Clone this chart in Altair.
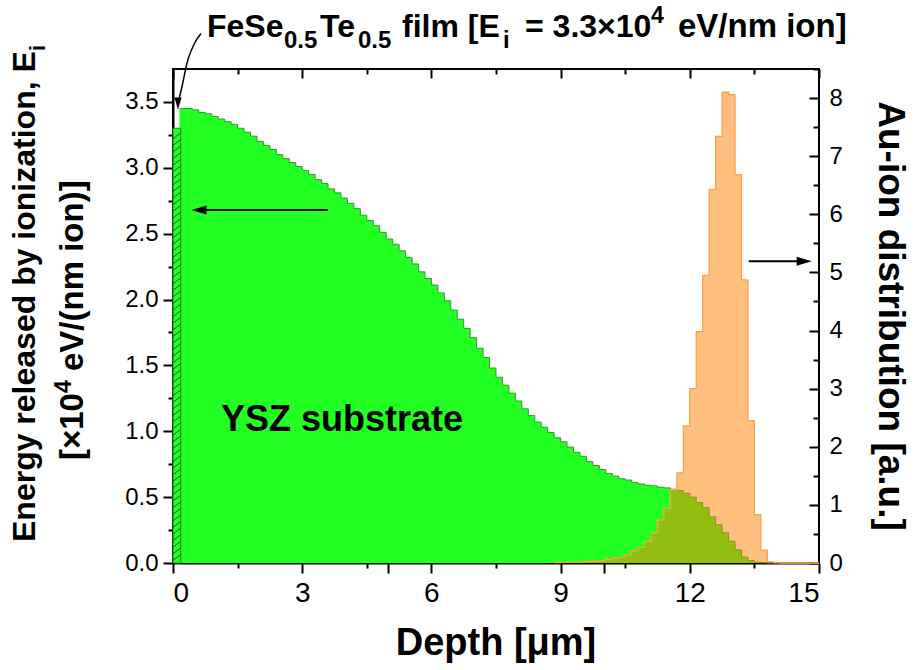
import altair as alt
import pandas as pd

FONT = "Liberation Sans"
BIN = 0.15  # depth bin width of both histograms, µm

# Energy released by ionization in the YSZ substrate (x10^4 eV/(nm ion)),
# one value per 0.15 µm bin, first bin starting at 0.15 µm
substrate_first_bin = 0.15
substrate_energy = [
    3.45, 3.45, 3.44, 3.42, 3.41, 3.39, 3.37, 3.35, 3.33, 3.30,
    3.27, 3.24, 3.20, 3.17, 3.14, 3.10, 3.07, 3.04, 3.01, 2.98,
    2.95, 2.91, 2.88, 2.84, 2.81, 2.77, 2.73, 2.69, 2.64, 2.60,
    2.56, 2.51, 2.46, 2.42, 2.37, 2.32, 2.27, 2.21, 2.16, 2.11,
    2.05, 1.99, 1.92, 1.85, 1.78, 1.71, 1.63, 1.56, 1.48, 1.41,
    1.35, 1.29, 1.23, 1.17, 1.12, 1.07, 1.03, 0.99, 0.95, 0.92,
    0.88, 0.84, 0.81, 0.77, 0.74, 0.71, 0.68, 0.66, 0.64, 0.63,
    0.61, 0.60, 0.59, 0.585, 0.575, 0.57, 0.56, 0.55, 0.53, 0.50,
    0.46, 0.42, 0.35, 0.29, 0.23, 0.165, 0.10, 0.045, 0.018, 0.005,
    0.002, 0, 0, 0, 0, 0, 0, 0, 0,
]

# Au-ion range distribution (a.u.), bins of 0.15 µm from 8.85 µm
ion_first_bin = 8.85
ion_distribution = [
    0.005, 0.01, 0.01, 0.015, 0.02, 0.03, 0.03, 0.04, 0.06, 0.08,
    0.10, 0.14, 0.21, 0.27, 0.37, 0.51, 0.74, 0.94, 1.26, 1.55,
    2.36, 3.00, 3.98, 4.95, 6.43, 7.34, 8.10, 8.06, 6.68, 4.87,
    2.45, 0.83, 0.22, 0.02, 0.005, 0, 0, 0, 0, 0, 0,
]

# FeSe0.5Te0.5 film on top of the substrate
film_depth = [0.0, 0.18]
film_energy = 3.3

# Axis ticks
x_major = [0, 3, 5, 6, 9, 10, 12, 15]
x_minor = [1.5, 4.5, 7.5, 10.5, 13.5]
x_top_major = [0, 3, 6, 9, 12, 15]
yl_major = [0, 0.5, 1.0, 1.5, 2.0, 2.5, 3.0, 3.5]
yl_minor = [0.25, 0.75, 1.25, 1.75, 2.25, 2.75, 3.25]
yr_major = [0, 1, 2, 3, 4, 5, 6, 7, 8]
yr_minor = [0.5, 1.5, 2.5, 3.5, 4.5, 5.5, 6.5, 7.5, 8.5]

# Annotation arrows (data units)
left_arrow = {"start": 3.6, "tip": 0.43, "level": 2.68}
right_arrow = {"start": 13.37, "tip": 14.83, "level": 5.19}
pointer_depth = [0.65, 0.51, 0.348, 0.209, 0.139]
pointer_level = [4.02, 3.951, 3.822, 3.617, 3.519]
pointer_tip = (0.116, 3.443)

W, H = 646, 494
OX, OY = 173, 69


def steps(first, values):
    edges = [round(first + BIN * i, 4) for i in range(len(values) + 1)]
    return pd.DataFrame({"depth": edges, "value": values + values[-1:]})


substrate_df = steps(substrate_first_bin, substrate_energy)
ion_df = steps(ion_first_bin, ion_distribution)

xs = alt.Scale(domain=[0, 15], nice=False, zero=False)
yls = alt.Scale(domain=[0, 3.75], nice=False, zero=False)
yrs = alt.Scale(domain=[0, 8.5], nice=False, zero=False)


def axis(orient, values, size, labels=False, offset=0, **kw):
    opts = dict(orient=orient, values=values, tickSize=size, tickWidth=2,
                tickColor="black", labels=labels, domain=False, grid=False,
                title=None, offset=offset, labelFont=FONT, labelColor="black",
                labelOverlap=False)
    opts.update(kw)
    return alt.Axis(**opts)


green = alt.Chart(substrate_df).mark_area(
    interpolate="step-after", color="#22FF22", opacity=1,
    line={"color": "#2F9E2F", "strokeWidth": 1},
).encode(
    x=alt.X("depth:Q", scale=xs, axis=axis(
        "bottom", x_major, 10, labels=True, labelFontSize=28, labelPadding=6,
        domain=True, domainWidth=2, domainColor="black",
        labelExpr="datum.value % 3 === 0 ? datum.label : ''")),
    y=alt.Y("value:Q", scale=yls, axis=axis(
        "left", yl_major, 10, labels=True, labelFontSize=24, labelPadding=5,
        domain=True, domainWidth=2, domainColor="black", format=".1f")),
)

film = alt.Chart(pd.DataFrame({
    "x0": [film_depth[0]], "x1": [film_depth[1]], "y0": [0], "y1": [film_energy]
})).mark_rect(color="#22FF22", opacity=1, stroke="#2E7D2E", strokeWidth=1).encode(
    x=alt.X("x0:Q", scale=xs, axis=axis("top", x_top_major, 9, offset=-9)),
    x2="x1:Q",
    y=alt.Y("y0:Q", scale=yls, axis=None),
    y2="y1:Q",
)

hatch = alt.Chart(alt.sequence(0.02, 3.25, 0.05, as_="h")).transform_calculate(
    x0=str(film_depth[0]), x1=str(film_depth[1]), h2="datum.h + 0.045"
).mark_rule(color="#1E5E1E", strokeWidth=1).encode(
    x=alt.X("x0:Q", scale=xs, axis=None),
    x2="x1:Q",
    y=alt.Y("h:Q", scale=yls, axis=None),
    y2="h2:Q",
)

orange = alt.Chart(ion_df).mark_area(
    interpolate="step-after", color="#FF8000", opacity=1, fillOpacity=0.5,
    line={"color": "#FFA04D", "strokeWidth": 1.3},
).encode(
    x=alt.X("depth:Q", scale=xs, axis=None),
    y=alt.Y("value:Q", scale=yrs, axis=axis(
        "right", yr_major, 10, labels=True, offset=-10,
        labelFontSize=24, labelPadding=10)),
)

larrow = alt.Chart(pd.DataFrame({
    "x0": [left_arrow["start"]], "x1": [left_arrow["tip"] + 0.17], "y": [left_arrow["level"]]
})).mark_rule(color="black", strokeWidth=2).encode(
    x=alt.X("x0:Q", scale=xs, axis=axis("bottom", x_minor, 5)),
    x2="x1:Q",
    y=alt.Y("y:Q", scale=yls, axis=axis("left", yl_minor, 5)),
)
lhead = alt.Chart(pd.DataFrame({"x": [left_arrow["tip"]], "y": [left_arrow["level"]]})).mark_point(
    shape="M0,0 L2,-0.6 L2,0.6 Z", filled=True, size=225, color="black", opacity=1
).encode(x=alt.X("x:Q", scale=xs, axis=None), y=alt.Y("y:Q", scale=yls, axis=None))

rarrow = alt.Chart(pd.DataFrame({
    "x0": [right_arrow["start"]], "x1": [right_arrow["tip"] - 0.2], "y": [right_arrow["level"]]
})).mark_rule(color="black", strokeWidth=2).encode(
    x=alt.X("x0:Q", scale=xs, axis=None),
    x2="x1:Q",
    y=alt.Y("y:Q", scale=yrs, axis=axis("right", yr_minor, 6, offset=-6)),
)
rhead = alt.Chart(pd.DataFrame({"x": [right_arrow["tip"]], "y": [right_arrow["level"]]})).mark_point(
    shape="M0,0 L-2,-0.6 L-2,0.6 Z", filled=True, size=225, color="black", opacity=1
).encode(x=alt.X("x:Q", scale=xs, axis=None), y=alt.Y("y:Q", scale=yrs, axis=None))

pointer = alt.Chart(pd.DataFrame({
    "i": list(range(len(pointer_depth))), "x": pointer_depth, "y": pointer_level
})).mark_line(color="black", strokeWidth=1.5, interpolate="cardinal").encode(
    x=alt.X("x:Q", scale=xs, axis=axis("top", x_minor, 5, offset=-5)),
    y=alt.Y("y:Q", scale=yls, axis=None),
    order="i:Q",
)
phead = alt.Chart(pd.DataFrame({"x": [pointer_tip[0]], "y": [pointer_tip[1]]})).mark_point(
    shape="M0,0 L-0.6,-2 L0.6,-2 Z", filled=True, size=144, color="black", opacity=1
).encode(x=alt.X("x:Q", scale=xs, axis=None), y=alt.Y("y:Q", scale=yls, axis=None))

one_row = pd.DataFrame({"k": [0]})


def note(text, x, y, size, angle=0, align="left", weight="bold"):
    return alt.Chart(one_row).mark_text(
        text=text, font=FONT, fontSize=size, fontWeight=weight, angle=angle,
        align=align, baseline="alphabetic", color="black",
    ).encode(x=alt.value(x - OX), y=alt.value(y - OY))


texts = [
    # top annotation: FeSe0.5Te0.5 film [Ei = 3.3x10^4 eV/nm ion]
    note("FeSe", 207, 37, 32),
    note("0.5", 284, 48, 24),
    note("Te", 320, 37, 32),
    note("0.5", 358, 48, 24),
    note("film [E", 402, 37, 32),
    note("i", 503, 48, 24),
    note("= 3.3×10", 525, 37, 32),
    note("4", 651, 23, 23),
    note("eV/nm ion]", 678, 37, 33),
    # left axis title, two lines
    note("Energy released by ionization, E", 35, 542, 32, angle=270),
    note("i", 45, 51, 22, angle=270),
    note("[×10", 83, 460, 33, angle=270),
    note("4", 71, 393, 23, angle=270),
    note("eV/(nm ion)]", 83, 371, 33, angle=270),
    # right axis title
    note("Au-ion distribution [a.u.]", 879, 316, 37, angle=90, align="center"),
    # x axis title
    note("Depth [μm]", 496, 655, 38, align="center"),
    # region label
    note("YSZ substrate", 221, 431, 36),
]

chart = alt.layer(
    green, film, hatch, orange, larrow, lhead, rarrow, rhead, pointer, phead, *texts
).resolve_scale(
    y="independent"
).resolve_axis(
    x="independent", y="independent"
).properties(
    width=W, height=H,
    autosize=alt.AutoSizeParams(type="none"),
    padding={"left": OX, "top": OY, "right": 914 - OX - W, "bottom": 670 - OY - H},
    background="white",
).configure_view(
    stroke="black", strokeWidth=2
)

chart.save("out.html", embed_options={"renderer": "svg", "actions": False})
